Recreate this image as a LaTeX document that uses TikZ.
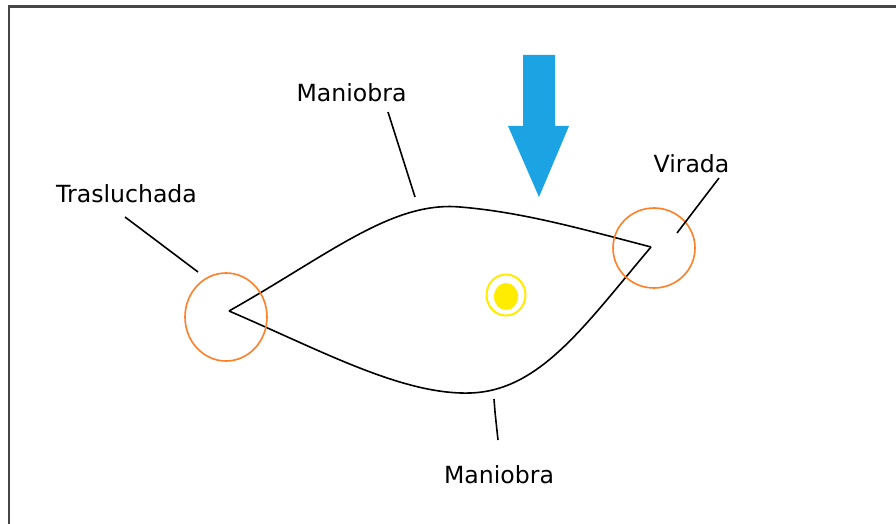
\documentclass[tikz,border=0pt]{standalone}
\usepackage{fontspec}
\setmainfont{DejaVu Sans}
\definecolor{orng}{RGB}{255,127,39}
\definecolor{ylw}{RGB}{255,236,0}
\definecolor{arrowblue}{RGB}{28,163,228}
\definecolor{frame}{RGB}{70,70,70}
\tikzset{
  lbl/.style={inner sep=0pt, anchor=base, font=\fontsize{23.6}{28}\selectfont, text=black},
  leader/.style={draw=black, line width=1.6pt},
  sail/.style={draw=black, line width=1.6pt},
  zone/.style={draw=orng, line width=1.6pt},
}
\begin{document}
\begin{tikzpicture}[x=1pt,y=-1pt]
\useasboundingbox (0,0) rectangle (896,524);
\fill[white] (0,0) rectangle (896,524);
% frame
\draw[frame, line width=2.5pt] (9,530) -- (9,6.5) -- (900,6.5);

% named points
\coordinate (L) at (229,311);
\coordinate (R) at (651,247);
\coordinate (T) at (460,207);
\coordinate (B) at (470,393);

% teardrop course
\draw[sail] (L) .. controls (330,254) and (392,201) .. (T)
            .. controls (522,212) and (582,229) .. (R);
\draw[sail] (L) .. controls (320,350) and (402,395) .. (B)
            .. controls (540,391) and (585,325) .. (R);

% orange zones
\draw[zone] (226,317) ellipse [x radius=41, y radius=44];
\draw[zone] (654,248) ellipse [x radius=41, y radius=40];

% yellow mark
\draw[ylw, line width=2pt] (506,295) ellipse [x radius=19.5, y radius=20.5];
\fill[ylw] (506,296.5) ellipse [x radius=12, y radius=13.5];

% wind arrow
\fill[arrowblue] (523,55) -- (555,55) -- (555,126) -- (569,126) -- (539,197)
  -- (508,126) -- (523,126) -- cycle;

% labels
\node[lbl] (m1) at (351.5,101.5) {Maniobra};
\node[lbl] (tr) at (126.5,202) {Trasluchada};
\node[lbl] (vi) at (691.5,172) {Virada};
\node[lbl] (m2) at (499,483) {Maniobra};

% leader ends
\coordinate (m1a) at (388,112);
\coordinate (m1b) at (415,197);
\coordinate (tra) at (125,217);
\coordinate (trb) at (198,272);
\coordinate (via) at (719,178);
\coordinate (vib) at (677,233);
\coordinate (m2a) at (494,399);
\coordinate (m2k) at (495,412);
\coordinate (m2b) at (498,440);

\draw[leader] (m1a) -- (m1b);
\draw[leader] (tra) -- (trb);
\draw[leader] (via) -- (vib);
\draw[leader] (m2a) -- (m2k) -- (m2b);
\end{tikzpicture}
\end{document}
